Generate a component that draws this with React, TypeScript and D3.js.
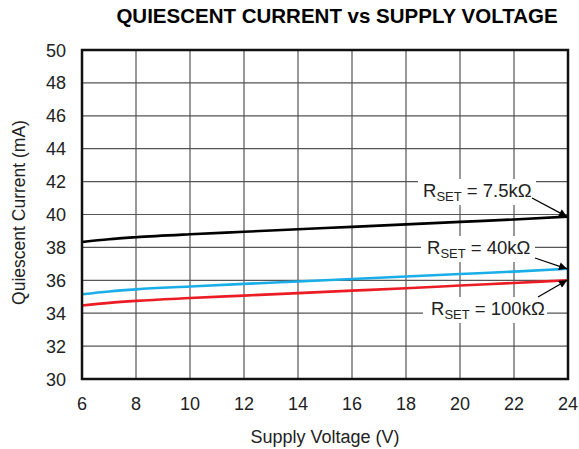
import * as d3 from 'd3'

const voltages = [6, 7, 8, 10, 12, 14, 16, 18, 20, 22, 24]
const currentR7k5 = [38.33, 38.5, 38.62, 38.8, 38.95, 39.1, 39.25, 39.4, 39.55, 39.7, 39.87]
const currentR40k = [35.15, 35.32, 35.45, 35.62, 35.78, 35.93, 36.08, 36.23, 36.38, 36.53, 36.7]
const currentR100k = [34.47, 34.63, 34.75, 34.92, 35.07, 35.22, 35.37, 35.52, 35.68, 35.84, 36.0]
const seriesNames = ['7.5kΩ', '40kΩ', '100kΩ']
const xTicks = [6, 8, 10, 12, 14, 16, 18, 20, 22, 24]
const yTicks = [30, 32, 34, 36, 38, 40, 42, 44, 46, 48, 50]

const W = 579
const H = 449
const margin = { top: 50, right: 11, bottom: 70, left: 82 }
const iw = W - margin.left - margin.right
const ih = H - margin.top - margin.bottom

const x = d3.scaleLinear().domain([6, 24]).range([0, iw])
const y = d3.scaleLinear().domain([30, 50]).range([ih, 0])

const series = [
  { name: seriesNames[0], values: currentR7k5, color: '#000000', lx: 341, ly: 147, ax: 450, ay: 148, box: [336, 129, 118, 26] },
  { name: seriesNames[1], values: currentR40k, color: '#1aaee8', lx: 345, ly: 204, ax: 453, ay: 208, box: [339, 186, 114, 26] },
  { name: seriesNames[2], values: currentR100k, color: '#ec1c24', lx: 349, ly: 265, ax: 456, ay: 247, box: [341, 247, 124, 26] },
]

const line = d3
  .line<number>()
  .x((_, i) => x(voltages[i]))
  .y(d => y(d))
  .curve(d3.curveMonotoneX)

const font = 'Helvetica, Arial, "Liberation Sans", sans-serif'

export default function App() {
  return (
    <svg width={W} height={H} style={{ display: 'block', position: 'absolute', left: 0, top: 0 }} fontFamily={font}>
      <defs>
        <marker id="arr" viewBox="0 0 10 10" refX="10" refY="5" markerWidth="13" markerHeight="8" markerUnits="userSpaceOnUse" orient="auto">
          <path d="M0,0 L10,5 L0,10 z" fill="#000" />
        </marker>
      </defs>
      <text x={337} y={23} textAnchor="middle" fontSize={20.5} fontWeight="bold" fill="#000">
        QUIESCENT CURRENT vs SUPPLY VOLTAGE
      </text>
      <g transform={`translate(${margin.left},${margin.top})`}>
        {xTicks.map(t => (
          <line key={'gx' + t} x1={x(t)} x2={x(t)} y1={0} y2={ih} stroke="#555" strokeWidth={1.2} />
        ))}
        {yTicks.map(t => (
          <line key={'gy' + t} x1={0} x2={iw} y1={y(t)} y2={y(t)} stroke="#555" strokeWidth={1.2} />
        ))}
        {series.map(s => (
          <rect key={'b' + s.name} x={s.box[0]} y={s.box[1]} width={s.box[2]} height={s.box[3]} fill="#fff" />
        ))}
        {series.map(s => (
          <path key={s.name} d={line(s.values) ?? ''} fill="none" stroke={s.color} strokeWidth={2.6} />
        ))}
        <rect x={0} y={0} width={iw} height={ih} fill="none" stroke="#111" strokeWidth={2.5} />
        {series.map(s => (
          <g key={'l' + s.name}>
            <text x={s.lx} y={s.ly} fontSize={18.5} fill="#222">
              R<tspan fontSize={13} dy={4}>SET</tspan>
              <tspan dy={-4}> = {s.name}</tspan>
            </text>
            <line
              x1={s.ax}
              y1={s.ay}
              x2={x(24) - 1}
              y2={y(s.values[s.values.length - 1])}
              stroke="#000"
              strokeWidth={1.3}
              markerEnd="url(#arr)"
            />
          </g>
        ))}
        {xTicks.map(t => (
          <text key={'xt' + t} x={x(t)} y={ih + 31} textAnchor="middle" fontSize={18} fill="#222">
            {t}
          </text>
        ))}
        {yTicks.map(t => (
          <text key={'yt' + t} x={-16} y={y(t) + 6.5} textAnchor="end" fontSize={18} fill="#222">
            {t}
          </text>
        ))}
        <text x={iw / 2} y={ih + 64} textAnchor="middle" fontSize={18} fill="#222">
          Supply Voltage (V)
        </text>
        <text transform={`translate(${-57},${ih / 2 - 2}) rotate(-90)`} textAnchor="middle" fontSize={17.5} fill="#222">
          Quiescent Current (mA)
        </text>
      </g>
    </svg>
  )
}
